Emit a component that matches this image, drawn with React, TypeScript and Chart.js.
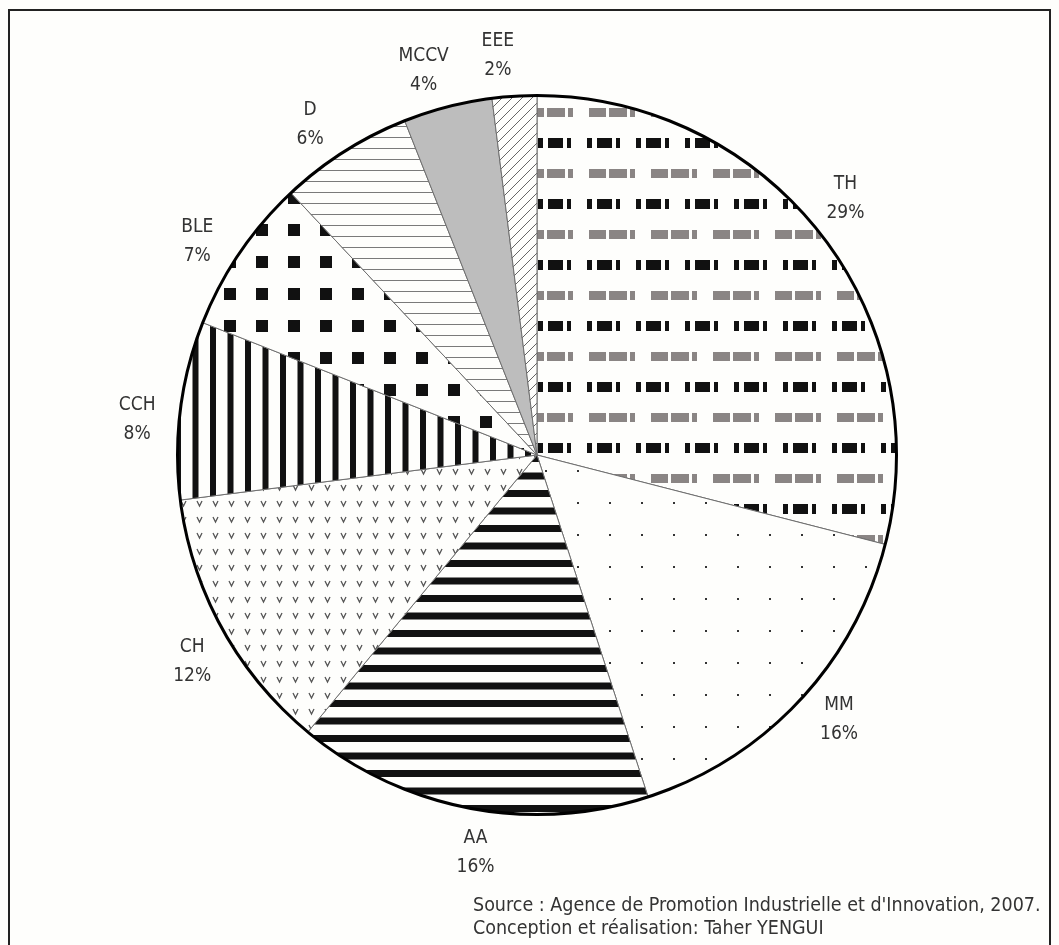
import React, { useEffect, useRef } from "react";
import { Chart, registerables } from "chart.js";

Chart.register(...registerables);

const categories = ["TH", "MM", "AA", "CH", "CCH", "BLE", "D", "MCCV", "EEE"];
const shares = [29, 16, 16, 12, 8, 7, 6, 4, 2];
const sourceLines = [
  "Source : Agence de Promotion Industrielle et d'Innovation, 2007.",
  "Conception et réalisation: Taher YENGUI",
];

const W = 1059;
const H = 945;
const LABEL_FONT = "19px 'DejaVu Sans Condensed', 'DejaVu Sans', sans-serif";
const SOURCE_FONT = "19.5px 'DejaVu Sans Condensed', 'DejaVu Sans', sans-serif";

function makeTile(w: number, h: number, draw: (c: CanvasRenderingContext2D) => void) {
  const c = document.createElement("canvas");
  c.width = w;
  c.height = h;
  const x = c.getContext("2d") as CanvasRenderingContext2D;
  x.fillStyle = "#fefefc";
  x.fillRect(0, 0, w, h);
  draw(x);
  return c;
}

function buildPatterns(ctx: CanvasRenderingContext2D): (CanvasPattern | string)[] {
  // TH: rows of dash groups, black & gray alternating
  const th = makeTile(1100, 61, (c) => {
    c.fillStyle = "#111";
    for (let x0 = -1; x0 < 1100; x0 += 49) {
      c.fillRect(x0, 16, 5, 10);
      c.fillRect(x0 + 10, 16, 15, 10);
      c.fillRect(x0 + 29, 16, 4, 10);
    }
    c.fillStyle = "#8a8584";
    for (let x0 = -31; x0 < 1100; x0 += 62) {
      c.fillRect(x0, 47, 17, 9);
      c.fillRect(x0 + 20, 47, 18, 9);
      c.fillRect(x0 + 41, 47, 5, 9);
    }
  });
  // MM: small dots
  const mm = makeTile(32, 32, (c) => {
    c.fillStyle = "#333";
    c.fillRect(1, 22, 2, 2);
  });
  // AA: horizontal black stripes
  const aa = makeTile(8, 35, (c) => {
    c.fillStyle = "#111";
    c.fillRect(0, 0, 8, 7);
    c.fillRect(0, 17.5, 8, 7);
  });
  // CH: small "v" marks
  const ch = makeTile(16, 16, (c) => {
    c.strokeStyle = "#555";
    c.lineWidth = 1.3;
    c.beginPath();
    c.moveTo(5, 5);
    c.lineTo(7.5, 10);
    c.lineTo(10, 5);
    c.stroke();
  });
  // CCH: vertical black stripes
  const cch = makeTile(35, 8, (c) => {
    c.fillStyle = "#111";
    c.fillRect(0, 0, 6, 8);
    c.fillRect(17.5, 0, 6, 8);
  });
  // BLE: black squares
  const ble = makeTile(32, 32, (c) => {
    c.fillStyle = "#111";
    c.fillRect(0, 0, 12, 12);
  });
  // D: thin horizontal gray lines
  const d = makeTile(8, 11, (c) => {
    c.fillStyle = "#7a7a7a";
    c.fillRect(0, 5, 8, 1);
  });
  // EEE: thin diagonal lines
  const eee = makeTile(10, 10, (c) => {
    c.strokeStyle = "#666";
    c.lineWidth = 1;
    c.beginPath();
    c.moveTo(-1, 11);
    c.lineTo(11, -1);
    c.moveTo(-6, 6);
    c.lineTo(6, -6);
    c.moveTo(4, 16);
    c.lineTo(16, 4);
    c.stroke();
  });
  const mk = (t: HTMLCanvasElement) => ctx.createPattern(t, "repeat") as CanvasPattern;
  return [mk(th), mk(mm), mk(aa), mk(ch), mk(cch), mk(ble), mk(d), "#bdbdbd", mk(eee)];
}

const decorPlugin = {
  id: "decor",
  beforeDraw(chart: any) {
    const ctx = chart.ctx as CanvasRenderingContext2D;
    ctx.save();
    ctx.fillStyle = "#fefefc";
    ctx.fillRect(0, 0, chart.width, chart.height);
    ctx.strokeStyle = "#222";
    ctx.lineWidth = 2;
    ctx.strokeRect(9, 10, 1041, 980);
    ctx.restore();
  },
  afterDatasetsDraw(chart: any) {
    const ctx = chart.ctx as CanvasRenderingContext2D;
    const meta = chart.getDatasetMeta(0);
    if (!meta.data.length) return;
    const a0 = meta.data[0];
    const cx = a0.x;
    const cy = a0.y;
    const r = a0.outerRadius;
    ctx.save();
    ctx.beginPath();
    ctx.arc(cx, cy, r, 0, Math.PI * 2);
    ctx.strokeStyle = "#000";
    ctx.lineWidth = 3;
    ctx.stroke();

    ctx.fillStyle = "#333";
    ctx.font = LABEL_FONT;
    ctx.textAlign = "center";
    ctx.textBaseline = "middle";
    const R = r + 42;
    meta.data.forEach((arc: any, i: number) => {
      const mid = (arc.startAngle + arc.endAngle) / 2 - (2 * Math.PI) / 180;
      const x = cx + Math.cos(mid) * R;
      const y = cy + Math.sin(mid) * R;
      ctx.fillText(categories[i], x, y - 14);
      ctx.fillText(shares[i] + "%", x, y + 15);
    });
    ctx.restore();
  },
  afterDraw(chart: any) {
    const ctx = chart.ctx as CanvasRenderingContext2D;
    ctx.save();
    ctx.fillStyle = "#333";
    ctx.font = SOURCE_FONT;
    ctx.textAlign = "left";
    ctx.textBaseline = "alphabetic";
    ctx.fillText(sourceLines[0], 473, 911);
    ctx.fillText(sourceLines[1], 473, 934);
    ctx.restore();
  },
};

export default function App() {
  const ref = useRef<HTMLCanvasElement | null>(null);
  useEffect(() => {
    const canvas = ref.current;
    if (!canvas) return;
    const ctx = canvas.getContext("2d") as CanvasRenderingContext2D;
    const patterns = buildPatterns(ctx);
    const chart = new Chart(canvas, {
      type: "pie",
      data: {
        labels: categories,
        datasets: [
          {
            data: shares,
            backgroundColor: patterns as any,
            borderColor: "#6f6f6f",
            borderWidth: 1,
          },
        ],
      },
      options: {
        responsive: false,
        animation: false,
        devicePixelRatio: 1,
        events: [],
        layout: { padding: { left: 177, right: 162, top: 95, bottom: 130 } },
        plugins: {
          legend: { display: false },
          tooltip: { enabled: false },
        },
      },
      plugins: [decorPlugin],
    });
    return () => chart.destroy();
  }, []);
  return (
    <div style={{ position: "absolute", left: 0, top: 0, width: W, height: H, background: "#fefefc" }}>
      <canvas ref={ref} width={W} height={H} style={{ display: "block", width: W, height: H }} />
    </div>
  );
}
